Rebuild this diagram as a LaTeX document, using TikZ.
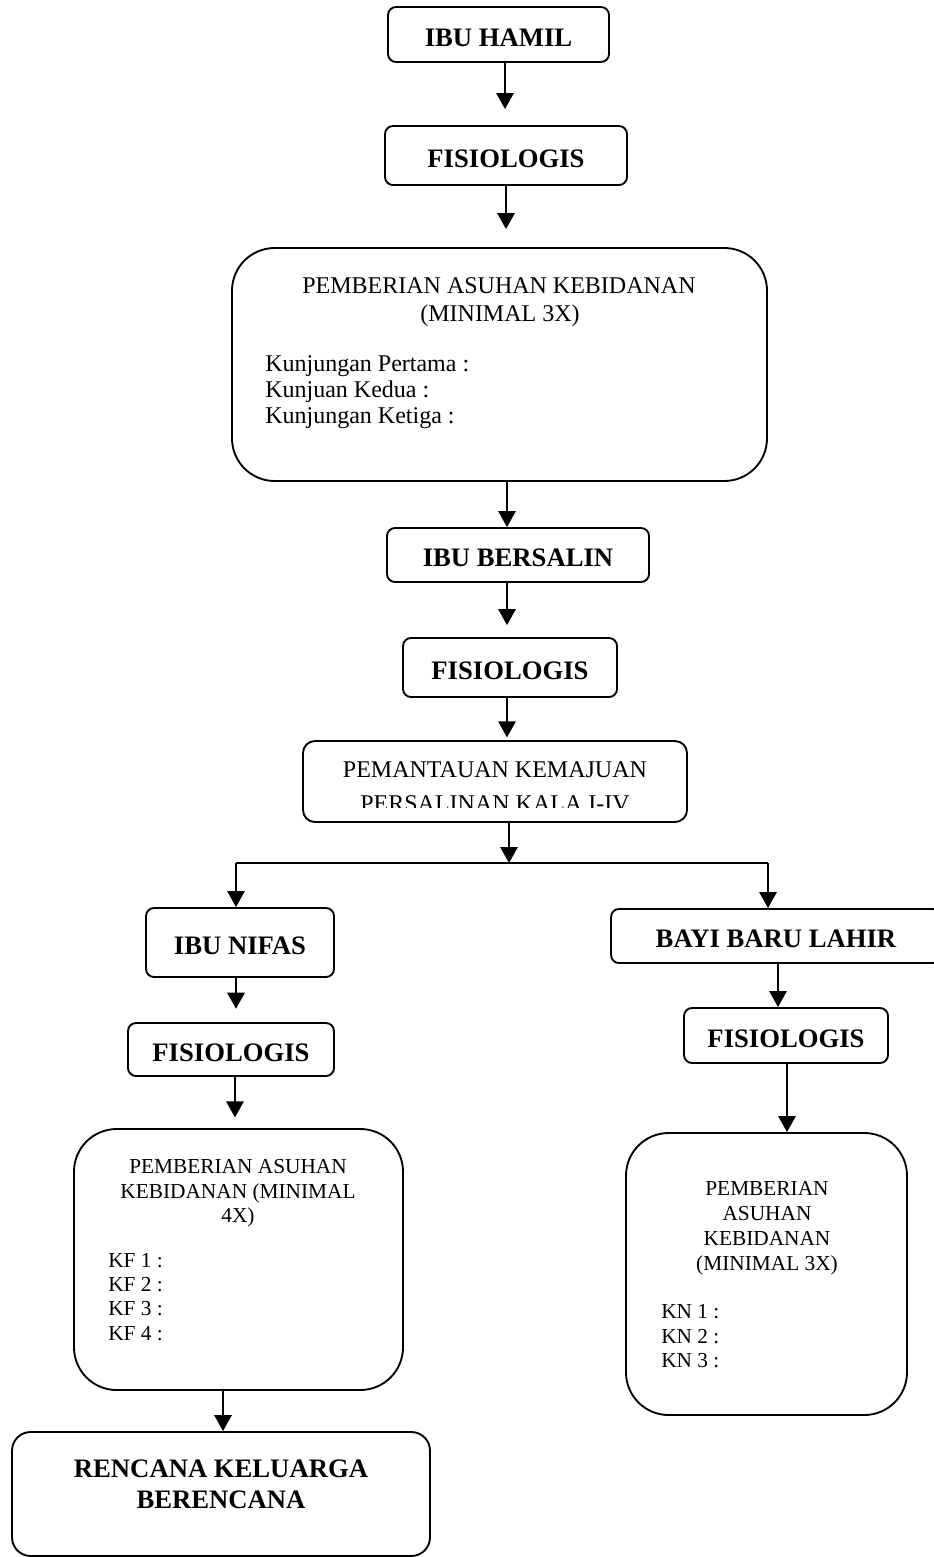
\documentclass[tikz,border=0pt]{standalone}
\usepackage{fontspec}
\setmainfont{Liberation Serif}
\usetikzlibrary{arrows.meta,fit}
\newcommand\fbig{\fontsize{20}{24}\selectfont\bfseries}
\newcommand\freg{\fontsize{18}{20}\selectfont}
\newcommand\fsml{\fontsize{16}{18}\selectfont}
\begin{document}
\begin{tikzpicture}[x=0.75pt,y=-0.75pt,
  sbox/.style={draw, line width=1.4pt, inner sep=0pt, rounded corners=6pt},
  bbox/.style={draw, line width=1.4pt, inner sep=0pt, rounded corners=32pt},
  btxt/.style={inner sep=0pt, font=\fbig, yshift=-2.25pt},
  arr/.style={line width=1.4pt, -{Triangle[length=12pt,width=13pt]}},
  thin/.style={line width=0.8pt},
  txt/.style={inner sep=0pt, anchor=base},
  ltxt/.style={inner sep=0pt, anchor=base west}]
\useasboundingbox (0,0) rectangle (933,1557);

% main column
\node[sbox, fit={(388,7) (609,62)}] (hamil) {};
\node[btxt] (hamilt) at (hamil) {IBU HAMIL};
\node[sbox, fit={(385,126) (627,185)}] (fis1) {};
\node[btxt] (fis1t) at (fis1) {FISIOLOGIS};
\node[bbox, fit={(232,248) (767,481)}] (asuh1) {};
\node[txt, font=\freg] (a1t1) at (499,293) {PEMBERIAN ASUHAN KEBIDANAN};
\node[txt, font=\freg] (a1t2) at (500,321) {(MINIMAL 3X)};
\node[ltxt, font=\freg] (a1k1) at (265,371) {Kunjungan Pertama :};
\node[ltxt, font=\freg] (a1k2) at (265,397) {Kunjuan Kedua :};
\node[ltxt, font=\freg] (a1k3) at (265,423) {Kunjungan Ketiga :};
\node[sbox, fit={(387,528) (649,582)}] (salin) {};
\node[btxt] (salint) at (salin) {IBU BERSALIN};
\node[sbox, fit={(403,638) (617,697)}] (fis2) {};
\node[btxt] (fis2t) at (fis2) {FISIOLOGIS};
\node[draw, line width=1.4pt, inner sep=0pt, rounded corners=9pt, fit={(303,741) (687,822)}] (pem) {};
\begin{scope}
  \clip (303,741) rectangle (687,807);
  \node[txt, font=\freg] (pt1) at (495,777) {PEMANTAUAN KEMAJUAN};
  \node[txt, font=\freg] (pt2) at (495,811) {PERSALINAN KALA I-IV};
\end{scope}

% branch
\coordinate (jm) at (509,863);
\coordinate (jl) at (236,863);
\coordinate (jr) at (768,863);
\draw[thin] (jl) -- (jr);

% left column
\node[sbox, fit={(146,908) (334,977)}] (nifas) {};
\node[btxt] (nifast) at (nifas) {IBU NIFAS};
\node[sbox, fit={(128,1023) (334,1076)}] (fis3) {};
\node[btxt] (fis3t) at (fis3) {FISIOLOGIS};
\node[bbox, fit={(74,1129) (403,1390)}] (asuh2) {};
\node[txt, font=\fsml] (a2t1) at (238,1173) {PEMBERIAN ASUHAN};
\node[txt, font=\fsml] (a2t2) at (238,1198) {KEBIDANAN (MINIMAL};
\node[txt, font=\fsml] (a2t3) at (238,1222) {4X)};
\node[ltxt, font=\fsml] (kf1) at (108,1267) {KF 1 :};
\node[ltxt, font=\fsml] (kf2) at (108,1291) {KF 2 :};
\node[ltxt, font=\fsml] (kf3) at (108,1315) {KF 3 :};
\node[ltxt, font=\fsml] (kf4) at (108,1340) {KF 4 :};
\node[draw, line width=1.4pt, inner sep=0pt, rounded corners=14pt, fit={(12,1432) (430,1556)}] (kb) {};
\node[txt, font=\fbig] (kbt1) at (221,1477) {RENCANA KELUARGA};
\node[txt, font=\fbig] (kbt2) at (221,1508) {BERENCANA};

% right column
\node[sbox, fit={(611,909) (941,963)}] (bayi) {};
\node[btxt] (bayit) at (776,936) {BAYI BARU LAHIR};
\node[sbox, fit={(684,1008) (888,1063)}] (fis4) {};
\node[btxt] (fis4t) at (fis4) {FISIOLOGIS};
\node[bbox, fit={(626,1133) (907,1415)}] (asuh3) {};
\node[txt, font=\fsml] (a3t1) at (767,1195) {PEMBERIAN};
\node[txt, font=\fsml] (a3t2) at (767,1220) {ASUHAN};
\node[txt, font=\fsml] (a3t3) at (767,1245) {KEBIDANAN};
\node[txt, font=\fsml] (a3t4) at (767,1270) {(MINIMAL 3X)};
\node[ltxt, font=\fsml] (kn1) at (661,1318) {KN 1 :};
\node[ltxt, font=\fsml] (kn2) at (661,1343) {KN 2 :};
\node[ltxt, font=\fsml] (kn3) at (661,1367) {KN 3 :};

% arrows
\draw[arr, shorten >=12pt] (505,0 |- hamil.south) -- (505,0 |- fis1.north);
\draw[arr, shorten >=13.5pt] (506,0 |- fis1.south) -- (506,0 |- asuh1.north);
\draw[arr] (507,0 |- asuh1.south) -- (507,0 |- salin.north);
\draw[arr, shorten >=9pt] (507,0 |- salin.south) -- (507,0 |- fis2.north);
\draw[arr, shorten >=2pt] (507,0 |- fis2.south) -- (507,0 |- pem.north);
\draw[arr] (509,0 |- pem.south) -- (jm);
\draw[arr] (jl) -- (jl |- nifas.north);
\draw[arr] (jr) -- (jr |- bayi.north);
\draw[arr, shorten >=10pt] (236,0 |- nifas.south) -- (236,0 |- fis3.north);
\draw[arr, shorten >=8pt] (235,0 |- fis3.south) -- (235,0 |- asuh2.north);
\draw[arr] (223,0 |- asuh2.south) -- (223,0 |- kb.north);
\draw[arr] (778,0 |- bayi.south) -- (778,0 |- fis4.north);
\draw[arr] (787,0 |- fis4.south) -- (787,0 |- asuh3.north);
\end{tikzpicture}
\end{document}
